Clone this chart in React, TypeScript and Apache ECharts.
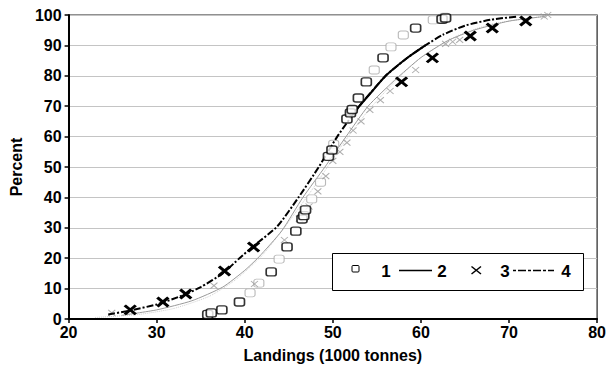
import React, { useEffect, useRef } from "react";
import * as echarts from "echarts";

// Observed series 1 (bold squares)
const squares1: [number, number][] = [
  [35.8, 1.5], [36.2, 2.0], [37.4, 3.0], [39.4, 5.6], [43.0, 15.5], [44.8, 23.7],
  [45.8, 28.9], [46.5, 32.9], [46.7, 34.0], [46.9, 35.9], [49.5, 53.5], [49.9, 55.6],
  [51.6, 65.8], [52.0, 67.8], [52.2, 68.9], [52.9, 72.7], [53.8, 78.0], [55.7, 85.9],
  [59.4, 95.7], [62.4, 98.6], [62.8, 99.0],
];
// Faint squares
const squaresFaint: [number, number][] = [
  [40.6, 8.6], [41.6, 11.8], [43.9, 19.7], [47.6, 39.5], [48.6, 45.0], [50.1, 57.5],
  [54.7, 81.9], [56.6, 89.5], [58.0, 93.4], [61.4, 98.4], [62.7, 99.3],
];
// Observed series 3 (bold crosses)
const crosses3: [number, number][] = [
  [27.0, 3.0], [30.7, 5.6], [33.3, 8.2], [37.7, 15.8], [41.0, 23.7], [57.8, 78.0],
  [61.3, 85.9], [65.6, 93.1], [68.1, 95.7], [71.9, 98.0],
];
// Faint crosses
const crossesFaint: [number, number][] = [
  [24.9, 2.0], [36.5, 11.0], [41.1, 11.5], [44.5, 26.0], [46.2, 33.0], [47.3, 37.0],
  [48.3, 42.0], [49.2, 47.0], [50.0, 52.0], [50.8, 55.0], [51.6, 58.0], [52.3, 62.0],
  [53.2, 65.0], [54.2, 68.8], [55.4, 72.0], [56.5, 75.0], [59.4, 81.9], [62.8, 90.5],
  [63.6, 91.2], [64.4, 91.8], [74.0, 99.5], [74.4, 100.0],
];
// Curve 4 (dash-dot, dark)
const curve4: [number, number][] = [
  [24.5, 1.5], [27, 2.8], [30, 4.8], [33, 7.8], [35, 10.5], [37.5, 15], [39.4, 20],
  [41, 24], [43.7, 30.5], [46.1, 40], [48.4, 50], [50.5, 60], [53, 70], [56, 80],
  [58.5, 86], [60.5, 90], [62.5, 93.5], [65, 96.5], [68, 98.5], [71, 99.5],
];
// Curve 2 (solid, dark)
const curve2: [number, number][] = [
  [52.5, 67.8], [53, 70], [54.5, 75], [56, 80], [58.5, 86], [60.5, 90],
];
// Thin grey curve
const curveGrey: [number, number][] = [
  [26, 1.2], [30, 3], [34, 6], [37.5, 10.5], [40, 16], [41.6, 20.4], [44.2, 29],
  [46.6, 40], [49.1, 50], [51.5, 60], [54, 70], [57, 78.5], [60, 86], [63, 91.5],
  [66, 95], [70, 98], [74, 99.5],
];
// Faint dotted curve
const curveFaint: [number, number][] = [
  [23, 0.5], [28, 1.5], [32, 3.5], [36, 7.5], [39, 13], [42, 21], [45, 32], [48, 44],
  [51, 57], [54, 68.5], [57, 78], [60, 86], [64, 93], [68, 97], [74, 99.6],
];
const legendLabels = ["1", "2", "3", "4"];

const FONT = "Liberation Sans, Arial, sans-serif";
const crossPath = "path://M0,0L10,8M10,0L0,8";

export default function App() {
  const ref = useRef<HTMLDivElement>(null);
  useEffect(() => {
    const chart = echarts.init(ref.current!, null, { renderer: "svg" });
    const legendText = (t: string, x: number) => ({
      type: "text",
      z: 101,
      style: {
        text: t, x, y: 271.5, fill: "#000",
        font: `bold 17px ${FONT}`,
        align: "center", verticalAlign: "middle",
        textAlign: "center", textVerticalAlign: "middle",
      },
    });
    const axisText = { fontFamily: FONT, fontSize: 16, fontWeight: "bold", color: "#000" };
    chart.setOption({
      animation: false,
      grid: {
        left: 64, right: 10, top: 15, bottom: 50,
        show: true, borderColor: "#222", borderWidth: 1.2,
      },
      xAxis: {
        type: "value", min: 20, max: 80, interval: 10,
        name: "Landings (1000 tonnes)", nameLocation: "middle", nameGap: 28,
        nameTextStyle: axisText,
        axisLine: { show: true, lineStyle: { color: "#000", width: 2 } },
        axisTick: { show: true, length: 4, lineStyle: { color: "#000", width: 1.5 } },
        axisLabel: { ...axisText, margin: 5 },
        splitLine: { show: false },
      },
      yAxis: {
        type: "value", min: 0, max: 100, interval: 10,
        name: "Percent", nameLocation: "middle", nameGap: 38, nameRotate: 90,
        nameTextStyle: axisText,
        axisLine: { show: true, lineStyle: { color: "#000", width: 2 } },
        axisTick: { show: true, length: 4, lineStyle: { color: "#000", width: 1.5 } },
        axisLabel: { ...axisText, margin: 7 },
        splitLine: { show: true, lineStyle: { color: "#c4c4c4", width: 1 } },
      },
      series: [
        {
          name: "faintcurve", type: "line", data: curveFaint, symbol: "none", smooth: 0.2,
          lineStyle: { color: "#cfcfcf", width: 1, type: "dotted" }, silent: true, z: 1,
        },
        {
          name: "greycurve", type: "line", data: curveGrey, symbol: "none", smooth: 0.2,
          lineStyle: { color: "#999", width: 1 }, silent: true, z: 2,
        },
        {
          name: "faintsq", type: "scatter", data: squaresFaint, symbol: "roundRect",
          symbolSize: [10, 8],
          itemStyle: { color: "#fff", borderColor: "#a8a8a8", borderWidth: 1 }, silent: true, z: 3,
        },
        {
          name: "faintx", type: "scatter", data: crossesFaint, symbol: crossPath,
          symbolSize: [7, 6],
          itemStyle: { color: "none", borderColor: "#999", borderWidth: 1 }, silent: true, z: 3,
        },
        {
          name: legendLabels[3], type: "line", data: curve4, symbol: "none", smooth: 0.2,
          lineStyle: { color: "#000", width: 2, type: [7, 2, 2, 2] }, silent: true, z: 4,
        },
        {
          name: legendLabels[1], type: "line", data: curve2, symbol: "none", smooth: 0.2,
          lineStyle: { color: "#000", width: 2 }, silent: true, z: 5,
        },
        {
          name: legendLabels[0], type: "scatter", data: squares1, symbol: "roundRect",
          symbolSize: [10, 8],
          itemStyle: { color: "#fff", borderColor: "#000", borderWidth: 1.5 }, silent: true, z: 6,
        },
        {
          name: legendLabels[2], type: "scatter", data: crosses3, symbol: crossPath,
          symbolSize: [11, 9],
          itemStyle: { color: "#000", opacity: 1, borderColor: "#000", borderWidth: 3 }, silent: true, z: 7,
        },
      ],
      graphic: [
        {
          type: "rect", z: 100,
          shape: { x: 332.5, y: 253.5, width: 251, height: 37 },
          style: { fill: "#fff", stroke: "#000", lineWidth: 1 },
        },
        {
          type: "rect", z: 101,
          shape: { x: 352, y: 265.5, width: 7, height: 6.5, r: 1 },
          style: { fill: "#fff", stroke: "#000", lineWidth: 1 },
        },
        legendText(legendLabels[0], 386),
        {
          type: "line", z: 101,
          shape: { x1: 399, y1: 270.5, x2: 432, y2: 270.5 },
          style: { stroke: "#000", lineWidth: 1.5 },
        },
        legendText(legendLabels[1], 442),
        {
          type: "line", z: 101,
          shape: { x1: 471.5, y1: 266.5, x2: 481, y2: 274 },
          style: { stroke: "#000", lineWidth: 1.5 },
        },
        {
          type: "line", z: 101,
          shape: { x1: 481, y1: 266.5, x2: 471.5, y2: 274 },
          style: { stroke: "#000", lineWidth: 1.5 },
        },
        legendText(legendLabels[2], 505),
        {
          type: "line", z: 101,
          shape: { x1: 513, y1: 270.5, x2: 554, y2: 270.5 },
          style: { stroke: "#000", lineWidth: 1.5, lineDash: [3, 2, 8, 2] },
        },
        legendText(legendLabels[3], 566),
      ],
    });
    return () => chart.dispose();
  }, []);
  return (
    <div
      ref={ref}
      style={{ position: "fixed", left: 0, top: 0, width: 609, height: 369, background: "#fff" }}
    />
  );
}
